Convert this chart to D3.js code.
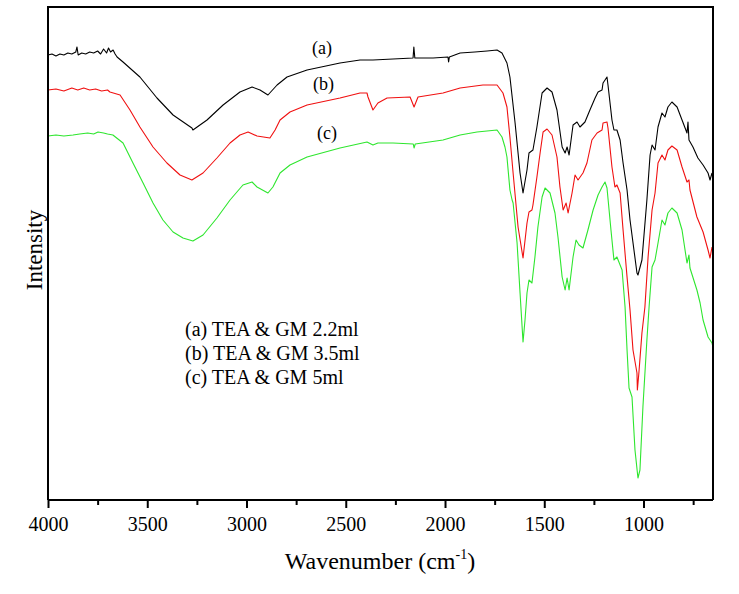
<!DOCTYPE html>
<html>
<head>
<meta charset="utf-8">
<script src="https://cdn.jsdelivr.net/npm/d3@7"></script>
<style>
  html, body { margin: 0; padding: 0; background: #fff; }
  svg { display: block; }
  text { font-family: "Liberation Serif", "Times New Roman", serif; fill: #000; }
</style>
</head>
<body>
<svg id="chart" width="739" height="594"></svg>
<script>
// ---- data (wavenumber cm^-1, intensity in arbitrary units) ----
const majorTicks = [4000, 3500, 3000, 2500, 2000, 1500, 1000];
const minorTicks = [3750, 3250, 2750, 2250, 1750, 1250, 750];
const seriesLabels = ["(a)", "(b)", "(c)"];
const legendLabels = ["(a) TEA & GM 2.2ml", "(b) TEA & GM 3.5ml", "(c) TEA & GM 5ml"];
const seriesColors = ["#000000", "#f01010", "#2ee62e"];

const seriesA = [
  [4000,445],[3980,446],[3960,444],[3940,446],[3920,445],[3900,447],[3880,446],[3860,448],[3854,453],[3848,445],
  [3830,447],[3810,446],[3790,448],[3770,447],[3750,449],[3735,446],[3720,451],[3705,447],[3695,452],[3685,448],
  [3672,450],[3662,446],[3652,443],[3622,438],[3537,423],[3451,402],[3370,385],[3275,372],[3270,370],[3199,380],
  [3118,395],[3033,408],[2972,413],[2932,410],[2892,405],[2846,415],[2796,423],[2695,430],[2600,434],[2529,437],
  [2428,440],[2363,440],[2262,441],[2161,442],[2157,453],[2152,442],[2060,442],[1985,443],[1982,438],[1978,443],
  [1924,447],[1850,448],[1788,449],[1738,450],[1713,447],[1688,437],[1673,423],[1647,377],[1622,327],[1607,307],
  [1587,330],[1577,347],[1557,350],[1537,373],[1511,407],[1486,412],[1461,408],[1436,390],[1410,353],[1395,347],
  [1385,353],[1375,345],[1355,375],[1335,378],[1320,373],[1295,378],[1270,390],[1244,402],[1229,408],[1209,410],
  [1204,417],[1184,423],[1179,415],[1159,380],[1149,370],[1134,370],[1118,360],[1103,337],[1083,310],[1068,280],
  [1033,227],[1028,225],[1008,240],[983,300],[967,345],[957,355],[942,350],[927,373],[907,387],[892,383],
  [877,393],[857,398],[831,393],[806,380],[781,367],[776,378],[771,360],[751,353],[726,342],[700,335],
  [675,327],[665,320],[655,327]
];

const seriesB = [
  [4000,410],[3960,411],[3920,409],[3880,412],[3850,410],[3820,412],[3790,410],[3760,411],[3730,409],[3700,410],
  [3688,408],[3637,405],[3587,390],[3537,373],[3471,353],[3401,337],[3335,325],[3275,320],[3219,327],[3149,342],
  [3083,357],[3033,365],[2992,368],[2947,364],[2882,362],[2856,370],[2831,380],[2781,388],[2695,395],[2529,402],
  [2428,407],[2393,407],[2388,403],[2363,390],[2338,397],[2292,402],[2176,403],[2156,393],[2136,403],[2010,407],
  [1924,412],[1809,415],[1738,415],[1708,407],[1688,393],[1673,363],[1657,327],[1632,273],[1607,242],[1587,277],
  [1577,288],[1562,290],[1557,295],[1537,323],[1521,347],[1506,368],[1486,371],[1461,365],[1436,343],[1421,313],
  [1405,290],[1390,297],[1380,287],[1360,307],[1345,325],[1330,320],[1305,327],[1285,337],[1260,360],[1234,367],
  [1209,370],[1204,377],[1184,378],[1179,372],[1159,333],[1144,313],[1134,315],[1118,307],[1103,270],[1083,223],
  [1068,190],[1053,150],[1033,127],[1031,110],[1023,128],[1008,167],[993,193],[977,243],[957,290],[942,307],
  [927,337],[907,345],[892,340],[877,350],[857,354],[831,350],[806,333],[781,318],[771,320],[766,310],
  [731,283],[700,268],[675,250],[665,242],[655,253]
];

const seriesC = [
  [4000,364],[3960,365],[3920,364],[3874,365],[3840,366],[3800,367],[3770,366],[3748,368],[3720,367],[3700,366],
  [3673,365],[3622,357],[3572,337],[3521,317],[3471,297],[3421,280],[3370,268],[3320,262],[3270,259],[3219,265],
  [3149,282],[3083,300],[3018,315],[2972,318],[2947,313],[2892,307],[2867,313],[2831,327],[2781,335],[2695,343],
  [2529,352],[2393,358],[2363,355],[2338,357],[2262,357],[2160,356],[2156,352],[2150,356],[2010,360],[1924,365],
  [1839,368],[1738,370],[1713,363],[1698,353],[1688,343],[1673,310],[1662,300],[1657,297],[1637,257],[1622,207],
  [1607,158],[1597,180],[1587,207],[1577,220],[1562,217],[1547,243],[1532,273],[1511,303],[1496,312],[1471,307],
  [1446,287],[1431,263],[1410,223],[1395,210],[1385,222],[1375,210],[1355,243],[1340,260],[1325,255],[1305,252],
  [1280,270],[1254,290],[1229,305],[1209,313],[1194,318],[1184,312],[1164,270],[1149,240],[1134,243],[1108,230],
  [1093,193],[1083,150],[1073,112],[1058,103],[1043,50],[1028,22],[1018,30],[1003,93],[983,160],[972,193],
  [957,233],[942,240],[927,257],[907,280],[892,275],[877,287],[857,292],[831,287],[806,270],[781,237],
  [771,245],[766,232],[731,210],[715,197],[700,180],[675,163],[655,157],[650,153]
];

const allSeries = [seriesA, seriesB, seriesC];

// ---- layout ----
const svg = d3.select("#chart");
const mLeft = 48, mRight = 713, mTop = 7, mBottom = 500;

const x = d3.scaleLinear().domain([4000, 650]).range([mLeft, mRight]);
const y = d3.scaleLinear().domain([0, 493]).range([mBottom, mTop]);

// curves
const line = d3.line().x(d => x(d[0])).y(d => y(d[1]));
allSeries.forEach((s, i) => {
  svg.append("path")
    .datum(s)
    .attr("fill", "none")
    .attr("stroke", seriesColors[i])
    .attr("stroke-width", 1.1)
    .attr("stroke-linejoin", "round")
    .attr("d", line);
});

// frame (left, top, right)
svg.append("path")
  .attr("d", `M${mLeft},${mBottom}V${mTop}H${mRight}V${mBottom}`)
  .attr("fill", "none").attr("stroke", "#000").attr("stroke-width", 2);

// bottom axis
const xAxis = d3.axisBottom(x).tickValues(majorTicks).tickSize(8).tickPadding(9).tickFormat(d3.format("d"));
const gx = svg.append("g").attr("transform", `translate(0,${mBottom})`).call(xAxis);
gx.select(".domain").attr("stroke-width", 2).attr("d", `M${mLeft},0H${mRight}`);
gx.selectAll(".tick line").attr("stroke-width", 2);
gx.selectAll(".tick text").style("font-family", "'Liberation Serif', serif").style("font-size", "20px");

const xMinor = d3.axisBottom(x).tickValues(minorTicks).tickSize(5).tickFormat("");
const gxm = svg.append("g").attr("transform", `translate(0,${mBottom})`).call(xMinor);
gxm.select(".domain").remove();
gxm.selectAll(".tick line").attr("stroke-width", 2);

// axis titles
const xt = svg.append("text").attr("x", 380).attr("y", 569).attr("text-anchor", "middle").style("font-size", "24px");
xt.append("tspan").text("Wavenumber (cm");
xt.append("tspan").text("-1").attr("dy", -10).style("font-size", "14px");
xt.append("tspan").text(")").attr("dy", 10);

svg.append("text")
  .attr("transform", "translate(42,250) rotate(-90)")
  .attr("text-anchor", "middle")
  .style("font-size", "23px")
  .text("Intensity");

// curve labels
const curveLabelPos = [[312, 54], [313, 90], [317, 139]];
seriesLabels.forEach((t, i) => {
  svg.append("text").attr("x", curveLabelPos[i][0]).attr("y", curveLabelPos[i][1])
    .style("font-size", "18px").text(t);
});

// legend
legendLabels.forEach((t, i) => {
  svg.append("text").attr("x", 185).attr("y", 336 + i * 24)
    .style("font-size", "20px").text(t);
});
</script>
</body>
</html>
